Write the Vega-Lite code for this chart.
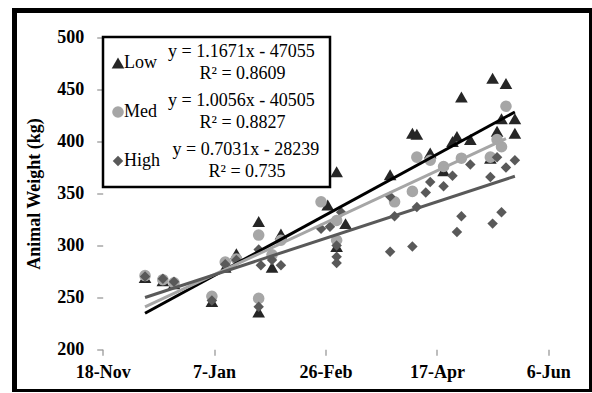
{
  "$schema": "https://vega.github.io/schema/vega-lite/v6.json",
  "width": 577,
  "height": 381,
  "autosize": {"type": "none"},
  "padding": {"left": 14.5, "top": 10.5, "right": 0, "bottom": 0},
  "background": "white",
  "config": {
    "view": {"stroke": "black", "strokeWidth": 5, "fill": "white"},
    "font": "Liberation Serif"
  },
  "datasets": {
    "pts": [
      {"d": "2010-12-07", "g": "Low", "w": 269},
      {"d": "2010-12-15", "g": "Low", "w": 266},
      {"d": "2010-12-20", "g": "Low", "w": 263},
      {"d": "2011-01-06", "g": "Low", "w": 246},
      {"d": "2011-01-12", "g": "Low", "w": 279},
      {"d": "2011-01-17", "g": "Low", "w": 292},
      {"d": "2011-01-27", "g": "Low", "w": 323},
      {"d": "2011-01-27", "g": "Low", "w": 236},
      {"d": "2011-02-02", "g": "Low", "w": 279},
      {"d": "2011-02-06", "g": "Low", "w": 311},
      {"d": "2011-02-27", "g": "Low", "w": 339},
      {"d": "2011-03-03", "g": "Low", "w": 371},
      {"d": "2011-03-07", "g": "Low", "w": 321},
      {"d": "2011-03-03", "g": "Low", "w": 299},
      {"d": "2011-03-27", "g": "Low", "w": 368},
      {"d": "2011-04-06", "g": "Low", "w": 408},
      {"d": "2011-04-08", "g": "Low", "w": 407},
      {"d": "2011-04-14", "g": "Low", "w": 389},
      {"d": "2011-04-20", "g": "Low", "w": 372},
      {"d": "2011-04-24", "g": "Low", "w": 400},
      {"d": "2011-04-26", "g": "Low", "w": 405},
      {"d": "2011-04-28", "g": "Low", "w": 443},
      {"d": "2011-05-02", "g": "Low", "w": 402},
      {"d": "2011-05-11", "g": "Low", "w": 384},
      {"d": "2011-05-12", "g": "Low", "w": 461},
      {"d": "2011-05-14", "g": "Low", "w": 410},
      {"d": "2011-05-16", "g": "Low", "w": 422},
      {"d": "2011-05-18", "g": "Low", "w": 456},
      {"d": "2011-05-22", "g": "Low", "w": 422},
      {"d": "2011-05-22", "g": "Low", "w": 408},
      {"d": "2010-12-07", "g": "Med", "w": 271},
      {"d": "2010-12-15", "g": "Med", "w": 267},
      {"d": "2010-12-20", "g": "Med", "w": 264},
      {"d": "2011-01-06", "g": "Med", "w": 251},
      {"d": "2011-01-12", "g": "Med", "w": 284},
      {"d": "2011-01-17", "g": "Med", "w": 287},
      {"d": "2011-01-27", "g": "Med", "w": 310},
      {"d": "2011-01-27", "g": "Med", "w": 249},
      {"d": "2011-02-02", "g": "Med", "w": 291},
      {"d": "2011-02-06", "g": "Med", "w": 305},
      {"d": "2011-02-24", "g": "Med", "w": 342},
      {"d": "2011-03-03", "g": "Med", "w": 324},
      {"d": "2011-03-03", "g": "Med", "w": 305},
      {"d": "2011-03-29", "g": "Med", "w": 342},
      {"d": "2011-04-06", "g": "Med", "w": 352},
      {"d": "2011-04-08", "g": "Med", "w": 385},
      {"d": "2011-04-14", "g": "Med", "w": 382},
      {"d": "2011-04-20", "g": "Med", "w": 376},
      {"d": "2011-04-28", "g": "Med", "w": 384},
      {"d": "2011-05-11", "g": "Med", "w": 385},
      {"d": "2011-05-14", "g": "Med", "w": 402},
      {"d": "2011-05-16", "g": "Med", "w": 395},
      {"d": "2011-05-18", "g": "Med", "w": 434},
      {"d": "2010-12-07", "g": "High", "w": 270},
      {"d": "2010-12-15", "g": "High", "w": 268},
      {"d": "2010-12-20", "g": "High", "w": 265},
      {"d": "2011-01-06", "g": "High", "w": 247},
      {"d": "2011-01-12", "g": "High", "w": 282},
      {"d": "2011-01-17", "g": "High", "w": 286},
      {"d": "2011-01-27", "g": "High", "w": 296},
      {"d": "2011-01-27", "g": "High", "w": 241},
      {"d": "2011-01-28", "g": "High", "w": 281},
      {"d": "2011-02-02", "g": "High", "w": 286},
      {"d": "2011-02-06", "g": "High", "w": 281},
      {"d": "2011-02-24", "g": "High", "w": 316},
      {"d": "2011-02-28", "g": "High", "w": 318},
      {"d": "2011-03-03", "g": "High", "w": 300},
      {"d": "2011-03-03", "g": "High", "w": 289},
      {"d": "2011-03-03", "g": "High", "w": 283},
      {"d": "2011-03-05", "g": "High", "w": 332},
      {"d": "2011-03-27", "g": "High", "w": 347},
      {"d": "2011-03-29", "g": "High", "w": 328},
      {"d": "2011-03-27", "g": "High", "w": 294},
      {"d": "2011-04-06", "g": "High", "w": 299},
      {"d": "2011-04-08", "g": "High", "w": 337},
      {"d": "2011-04-12", "g": "High", "w": 351},
      {"d": "2011-04-14", "g": "High", "w": 361},
      {"d": "2011-04-20", "g": "High", "w": 357},
      {"d": "2011-04-24", "g": "High", "w": 367},
      {"d": "2011-04-26", "g": "High", "w": 313},
      {"d": "2011-04-28", "g": "High", "w": 328},
      {"d": "2011-05-02", "g": "High", "w": 378},
      {"d": "2011-05-11", "g": "High", "w": 366},
      {"d": "2011-05-12", "g": "High", "w": 321},
      {"d": "2011-05-14", "g": "High", "w": 385},
      {"d": "2011-05-16", "g": "High", "w": 332},
      {"d": "2011-05-18", "g": "High", "w": 375},
      {"d": "2011-05-22", "g": "High", "w": 382}
    ],
    "trend": [
      {"d": "2010-12-07", "s": "Low fit", "w": 234.7},
      {"d": "2011-05-22", "s": "Low fit", "w": 428.5},
      {"d": "2010-12-07", "s": "Med fit", "w": 240.9},
      {"d": "2011-05-18", "s": "Med fit", "w": 402.8},
      {"d": "2010-12-07", "s": "High fit", "w": 249.9},
      {"d": "2011-05-22", "s": "High fit", "w": 366.6}
    ]
  },
  "layer": [
    {
      "mark": {"type": "rule", "color": "#9a9a9a", "strokeWidth": 1.3},
      "encoding": {
        "x": {"datum": {"year": 2010, "month": 11, "date": 18, "utc": true}, "type": "temporal"},
        "y": {"datum": 200, "type": "quantitative"},
        "y2": {"datum": 500}
      }
    },
    {
      "mark": {"type": "rule", "color": "#9a9a9a", "strokeWidth": 1.3},
      "encoding": {
        "x": {"datum": {"year": 2010, "month": 11, "date": 18, "utc": true}, "type": "temporal"},
        "x2": {"datum": {"year": 2011, "month": 6, "date": 6, "utc": true}},
        "y": {"datum": 200, "type": "quantitative"}
      }
    },
    {
      "data": {"name": "pts"},
      "mark": {"type": "point", "filled": true, "opacity": 1, "strokeWidth": 0},
      "encoding": {
        "x": {
          "field": "d", "type": "temporal",
          "scale": {"type": "utc", "domain": [
            {"year": 2010, "month": 10, "date": 9, "hours": 9, "minutes": 50, "utc": true},
            {"year": 2011, "month": 6, "date": 25, "hours": 9, "minutes": 20, "utc": true}
          ]},
          "axis": {
            "values": [
              {"year": 2010, "month": 11, "date": 18, "utc": true},
              {"year": 2011, "month": 1, "date": 7, "utc": true},
              {"year": 2011, "month": 2, "date": 26, "utc": true},
              {"year": 2011, "month": 4, "date": 17, "utc": true},
              {"year": 2011, "month": 6, "date": 6, "utc": true}
            ],
            "format": "%-d-%b",
            "offset": -42.2,
            "domain": false, "grid": false, "title": null,
            "tickColor": "#9a9a9a", "tickSize": 6, "tickWidth": 1.3,
            "labelFont": "Liberation Serif", "labelFontSize": 18, "labelFontWeight": "bold",
            "labelColor": "black", "labelPadding": 8, "labelFlush": false, "labelOverlap": false
          }
        },
        "y": {
          "field": "w", "type": "quantitative",
          "scale": {"domain": [159.37, 526.19], "nice": false, "zero": false},
          "axis": {
            "values": [200, 250, 300, 350, 400, 450, 500],
            "offset": -88.2,
            "domain": false, "grid": false,
            "tickColor": "#9a9a9a", "tickSize": 6, "tickWidth": 1.3,
            "labelFont": "Liberation Serif", "labelFontSize": 18, "labelFontWeight": "bold",
            "labelColor": "black", "labelPadding": 13, "labelFlush": false, "labelOverlap": false,
            "title": "Animal Weight (kg)",
            "titleFont": "Liberation Serif", "titleFontSize": 18, "titleFontWeight": "bold",
            "titleColor": "black", "titleX": -68, "titleY": 183, "titleAngle": -90,
            "titleAlign": "center", "titleBaseline": "middle"
          }
        },
        "color": {
          "field": "g", "type": "nominal",
          "scale": {"domain": ["Low", "Med", "High"], "range": ["#262626", "#a6a6a6", "#595959"]},
          "legend": {
            "orient": "none", "legendX": 94.5, "legendY": 43.5, "title": null,
            "direction": "vertical", "padding": 0,
            "symbolSize": 100, "symbolStrokeWidth": 0, "symbolOpacity": 1,
            "labelFont": "Liberation Serif", "labelFontSize": 18, "labelColor": "black",
            "labelOffset": -3, "rowPadding": 31, "labelLimit": 400
          }
        },
        "shape": {
          "field": "g", "type": "nominal",
          "scale": {"domain": ["Low", "Med", "High"], "range": ["triangle-up", "circle", "diamond"]}
        },
        "size": {
          "field": "g", "type": "nominal",
          "scale": {"domain": ["Low", "Med", "High"], "range": [160, 110, 140]},
          "legend": null
        }
      }
    },
    {
      "data": {"name": "trend"},
      "mark": {"type": "line", "strokeWidth": 3},
      "encoding": {
        "x": {"field": "d", "type": "temporal"},
        "y": {"field": "w", "type": "quantitative"},
        "stroke": {
          "field": "s", "type": "nominal",
          "scale": {"domain": ["Low fit", "Med fit", "High fit"], "range": ["#000000", "#a6a6a6", "#595959"]},
          "legend": {
            "orient": "none", "legendX": 88.5, "legendY": 26.5, "title": null,
            "direction": "vertical", "strokeColor": "black", "padding": 6,
            "symbolType": "stroke", "symbolSize": 4, "symbolOpacity": 0, "symbolStrokeWidth": 0,
            "labelFont": "Liberation Serif", "labelFontSize": 18, "labelColor": "black",
            "labelOffset": 41, "rowPadding": 9, "labelLimit": 400,
            "labelExpr": "datum.label == 'Low fit' ? ['y = 1.1671x - 47055\u00a0\u00a0\u200b', '\u200b\u00a0\u00a0\u00a0\u00a0\u00a0\u00a0\u00a0R² = 0.8609'] : datum.label == 'Med fit' ? ['y = 1.0056x - 40505', '\u200b\u00a0\u00a0\u00a0\u00a0\u00a0\u00a0\u00a0R² = 0.8827'] : ['\u200b\u00a0y = 0.7031x - 28239', '\u200b\u00a0\u00a0\u00a0\u00a0\u00a0\u00a0\u00a0\u00a0\u00a0R² = 0.735']",
            "encoding": {
              "labels": {"lineHeight": {"value": 21.5}},
              "legend": {"strokeWidth": {"value": 2.5}}
            }
          }
        }
      }
    }
  ]
}
